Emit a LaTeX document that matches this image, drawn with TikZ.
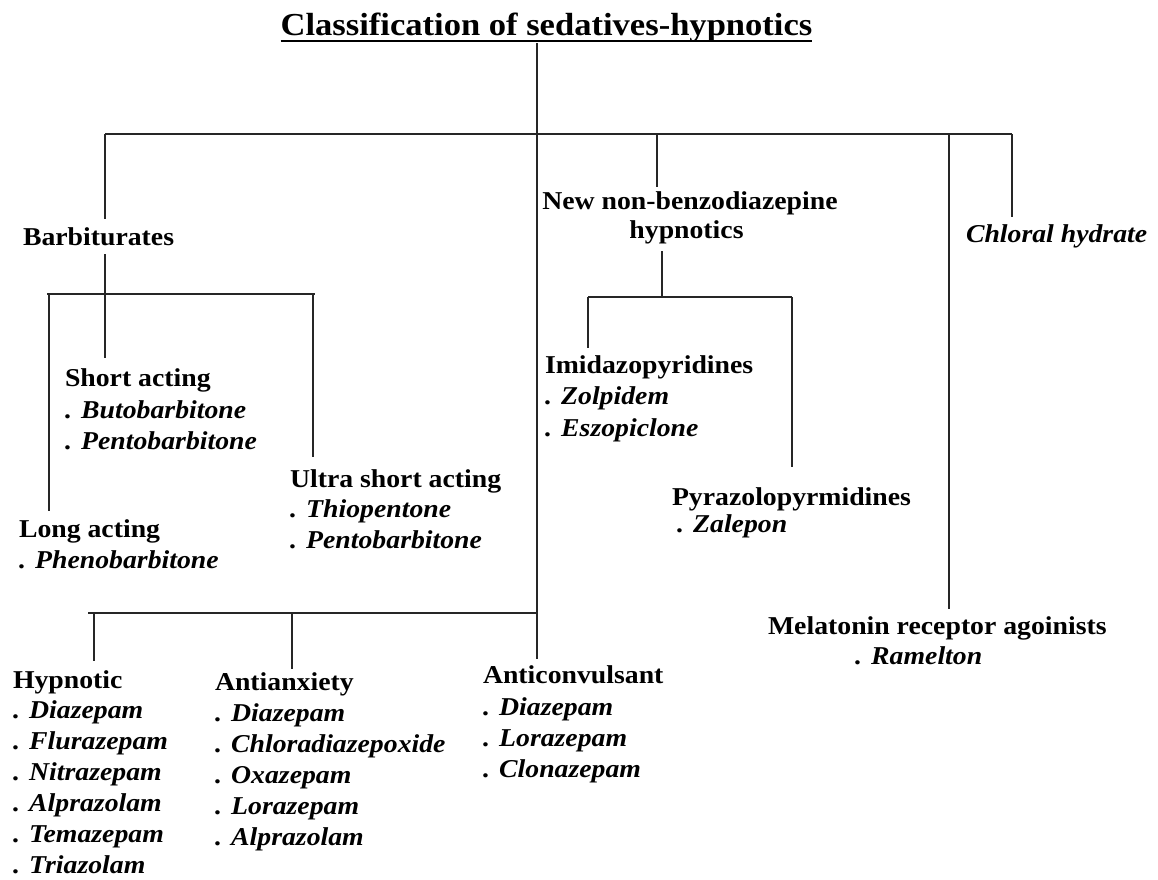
\documentclass[tikz,border=0pt]{standalone}
\usepackage{fontspec}
\setmainfont[FakeStretch=1.08]{Liberation Serif}
\begin{document}
\begin{tikzpicture}[x=1pt,y=-1pt,
  every node/.style={inner sep=0pt, outer sep=0pt},
  head/.style={font=\fontsize{25.7}{31}\selectfont\bfseries, anchor=base west},
  item/.style={font=\fontsize{25.7}{31}\selectfont\bfseries\itshape, anchor=base west},
  conn/.style={line width=1.4pt, draw=black!85},
  titlestyle/.style={font=\fontsize{32}{36}\selectfont\bfseries, anchor=base}]
\useasboundingbox[fill=white] (0,0) rectangle (1158,879);

% title
\node[titlestyle] (T) at (546.5,35) {Classification of sedatives-hypnotics};
\draw[line width=1.8pt] (T.south west) ++(0,-1) coordinate (ulA) -- (ulA -| T.south east);

% top level nodes
\node[head] (barb) at (23,245) {Barbiturates};
\node[head, anchor=base] (new1) at (690,209) {New non-benzodiazepine};
\node[head, anchor=base] (new2) at (686.5,238) {hypnotics};
\node[item] (chloral) at (966,242) {Chloral hydrate};
\node[head] (mel) at (768,634) {Melatonin receptor agoinists};
\node[item] (mel1) at (855,664) {. Ramelton};

% barbiturates children
\node[head] (short) at (65,386) {Short acting};
\node[item] (short1) at (65,418) {. Butobarbitone};
\node[item] (short2) at (65,449) {. Pentobarbitone};
\node[head] (ultra) at (290,487) {Ultra short acting};
\node[item] (ultra1) at (290,517) {. Thiopentone};
\node[item] (ultra2) at (290,548) {. Pentobarbitone};
\node[head] (long) at (19,537) {Long acting};
\node[item] (long1) at (19,568) {. Phenobarbitone};

% non-benzodiazepine children
\node[head] (imid) at (545,373) {Imidazopyridines};
\node[item] (imid1) at (545,404) {. Zolpidem};
\node[item] (imid2) at (545,436) {. Eszopiclone};
\node[head] (pyra) at (672,505) {Pyrazolopyrmidines};
\node[item] (pyra1) at (677,532) {. Zalepon};

% benzodiazepine groups
\node[head] (hyp) at (13,688) {Hypnotic};
\node[item] (hyp1) at (13,718) {. Diazepam};
\node[item] (hyp2) at (13,749) {. Flurazepam};
\node[item] (hyp3) at (13,780) {. Nitrazepam};
\node[item] (hyp4) at (13,811) {. Alprazolam};
\node[item] (hyp5) at (13,842) {. Temazepam};
\node[item] (hyp6) at (13,873) {. Triazolam};

\node[head] (anx) at (215,690) {Antianxiety};
\node[item] (anx1) at (215,721) {. Diazepam};
\node[item] (anx2) at (215,752) {. Chloradiazepoxide};
\node[item] (anx3) at (215,783) {. Oxazepam};
\node[item] (anx4) at (215,814) {. Lorazepam};
\node[item] (anx5) at (215,845) {. Alprazolam};

\node[head] (conv) at (483,683) {Anticonvulsant};
\node[item] (conv1) at (483,715) {. Diazepam};
\node[item] (conv2) at (483,746) {. Lorazepam};
\node[item] (conv3) at (483,777) {. Clonazepam};

% junction coordinates
\coordinate (top) at (537,43);
\coordinate (jTop) at (537,134);
\coordinate (jL) at (105,134);
\coordinate (jR) at (1012,134);
\coordinate (jNew) at (657,134);
\coordinate (jMel) at (949,134);
\coordinate (eBarb) at (105,219);
\coordinate (eNew) at (657,187);
\coordinate (eChl) at (1012,217);
\coordinate (eMel) at (949,609);

\coordinate (sBarb) at (105,254);
\coordinate (jBarb) at (105,294);
\coordinate (bL) at (47,294);
\coordinate (bR) at (315,294);
\coordinate (eLong) at (49,511);
\coordinate (eShort) at (105,358);
\coordinate (eUltra) at (313,457);

\coordinate (sNew) at (662,251);
\coordinate (jNB) at (662,297);
\coordinate (nL) at (588,297);
\coordinate (nR) at (792,297);
\coordinate (eImid) at (588,348);
\coordinate (ePyra) at (792,467);

\coordinate (jBz) at (537,613);
\coordinate (zL) at (88,613);
\coordinate (eConv) at (537,659);
\coordinate (eHyp) at (94,661);
\coordinate (eAnx) at (292,669);

% connectors
\draw[conn] (top) -- (jTop) -- (jBz) -- (eConv);
\draw[conn] (jL) -- (jR);
\draw[conn] (jL) -- (eBarb);
\draw[conn] (jNew) -- (eNew);
\draw[conn] (jMel) -- (eMel);
\draw[conn] (jR) -- (eChl);

\draw[conn] (sBarb) -- (jBarb);
\draw[conn] (bL) -- (bR);
\draw[conn] (eLong |- bL) -- (eLong);
\draw[conn] (jBarb) -- (eShort);
\draw[conn] (eUltra |- bR) -- (eUltra);

\draw[conn] (sNew) -- (jNB);
\draw[conn] (nL) -- (nR);
\draw[conn] (nL) -- (eImid);
\draw[conn] (nR) -- (ePyra);

\draw[conn] (zL) -- (jBz);
\draw[conn] (eHyp |- zL) -- (eHyp);
\draw[conn] (eAnx |- zL) -- (eAnx);
\end{tikzpicture}
\end{document}
